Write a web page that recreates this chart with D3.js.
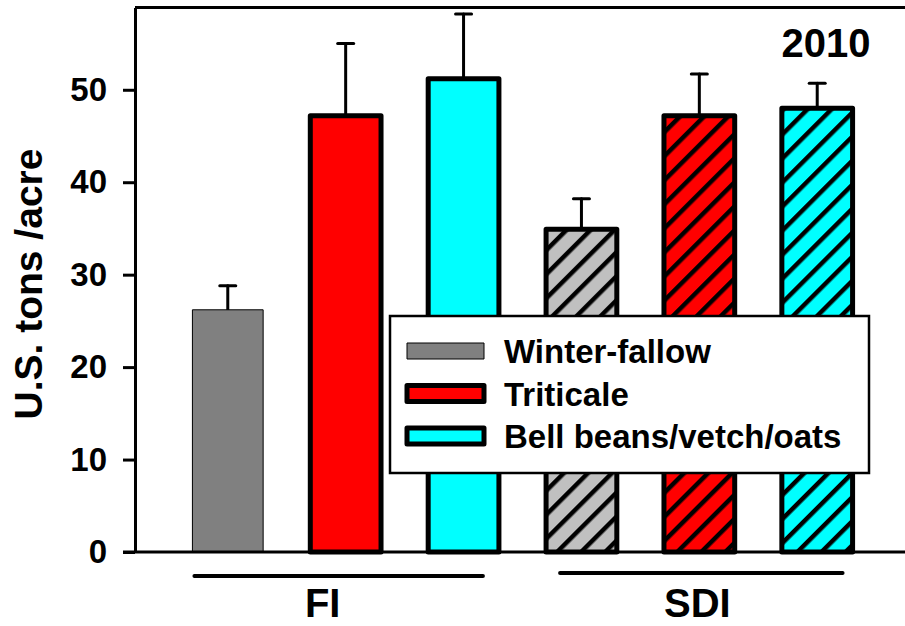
<!DOCTYPE html>
<html>
<head>
<meta charset="utf-8">
<script src="https://cdn.jsdelivr.net/npm/d3@7"></script>
<style>
  html, body { margin: 0; padding: 0; background: #fff; }
  svg { display: block; }
  text { font-family: "Liberation Sans", Arial, sans-serif; font-weight: bold; fill: #000; }
</style>
</head>
<body>
<svg id="chart" width="905" height="626"></svg>
<script>
// Irrigation systems and cover-crop treatments
const groups = ["FI", "SDI"];
const treatments = ["Winter-fallow", "Triticale", "Bell beans/vetch/oats"];
const fillColors = ["#808080", "#ff0000", "#00ffff"];
const hatchedGray = "#c0c0c0";

// Yield means (U.S. tons/acre) and standard errors, per group
const fiMeans = [26.2, 47.2, 51.2];
const fiErrors = [2.6, 7.8, 7.0];
const sdiMeans = [34.9, 47.2, 48.0];
const sdiErrors = [3.3, 4.5, 2.7];

const yTicks = [0, 10, 20, 30, 40, 50];
const yearLabel = "2010";
const yTitle = "U.S. tons /acre";

const rows = [];
groups.forEach((g, gi) => {
  const means = gi === 0 ? fiMeans : sdiMeans;
  const errs = gi === 0 ? fiErrors : sdiErrors;
  treatments.forEach((t, ti) => {
    rows.push({ key: g + "|" + t, group: g, gi, ti, value: means[ti], err: errs[ti] });
  });
});

const svg = d3.select("#chart");
const plotLeft = 135, plotRight = 910, plotTop = 7.5, plotBottom = 552;

const x = d3.scaleBand()
  .domain(rows.map(d => d.key))
  .range([plotLeft, plotRight])
  .paddingInner(0.4)
  .paddingOuter(0.487);

const y = d3.scaleLinear().domain([0, 58.9]).range([plotBottom, plotTop]);

// Diagonal hatch patterns for the SDI bars
const defs = svg.append("defs");
function hatch(id, bg) {
  const p = defs.append("pattern")
    .attr("id", id)
    .attr("patternUnits", "userSpaceOnUse")
    .attr("width", 17).attr("height", 17)
    .attr("patternTransform", "rotate(45)");
  p.append("rect").attr("width", 17).attr("height", 17).attr("fill", bg);
  p.append("rect").attr("x", 0).attr("width", 4.5).attr("height", 17).attr("fill", "#000");
}
hatch("hatch0", hatchedGray);
hatch("hatch1", fillColors[1]);
hatch("hatch2", fillColors[2]);

// Error bars (drawn first so bars sit on top of the stem base)
const eb = svg.append("g").attr("stroke", "#000").attr("stroke-width", 3).attr("stroke-linecap", "round");
rows.forEach(d => {
  const cx = x(d.key) + x.bandwidth() / 2;
  eb.append("line").attr("x1", cx).attr("x2", cx).attr("y1", y(d.value)).attr("y2", y(d.value + d.err));
  eb.append("line").attr("x1", cx - 8).attr("x2", cx + 8).attr("y1", y(d.value + d.err)).attr("y2", y(d.value + d.err));
});

// Bars
svg.append("g").selectAll("rect").data(rows).join("rect")
  .attr("x", d => x(d.key))
  .attr("width", x.bandwidth())
  .attr("y", d => y(d.value))
  .attr("height", d => y(0) - y(d.value))
  .attr("fill", d => d.gi === 0 ? fillColors[d.ti] : `url(#hatch${d.ti})`)
  .attr("stroke", "#000")
  .attr("stroke-linejoin", "round")
  .attr("stroke-width", d => (d.gi === 0 && d.ti === 0) ? 1 : 5);

// Frame: top line and bottom axis line
svg.append("line").attr("x1", plotLeft).attr("x2", 905).attr("y1", plotTop).attr("y2", plotTop)
  .attr("stroke", "#000").attr("stroke-width", 3);
svg.append("line").attr("x1", plotLeft - 12).attr("x2", 905).attr("y1", plotBottom).attr("y2", plotBottom)
  .attr("stroke", "#000").attr("stroke-width", 3);

// Y axis
const yAxis = svg.append("g")
  .attr("transform", `translate(${plotLeft},0)`)
  .call(d3.axisLeft(y).tickValues(yTicks).tickSize(12).tickSizeOuter(0).tickPadding(16));
yAxis.select(".domain").attr("stroke-width", 3);
yAxis.selectAll(".tick line").attr("stroke-width", 3);
yAxis.selectAll(".tick text")
  .style("font-family", '"Liberation Sans", Arial, sans-serif')
  .style("font-weight", "bold")
  .style("font-size", "33px");

svg.append("text")
  .attr("transform", "translate(42,284) rotate(-90)")
  .attr("text-anchor", "middle")
  .style("font-size", "39px")
  .text(yTitle);

// Year label
svg.append("text")
  .attr("x", 826).attr("y", 57)
  .attr("text-anchor", "middle")
  .style("font-size", "40px")
  .text(yearLabel);

// Group underlines and labels
const groupLayout = [
  { l: 2, r: -16, ly: 576, dx: -23 },
  { l: 14, r: -10, ly: 573, dx: -2 }
];
groups.forEach((g, gi) => {
  const keys = rows.filter(d => d.gi === gi).map(d => d.key);
  const gl = groupLayout[gi];
  const x0 = x(keys[0]) + gl.l;
  const x1 = x(keys[keys.length - 1]) + x.bandwidth() + gl.r;
  svg.append("line").attr("x1", x0).attr("x2", x1).attr("y1", gl.ly).attr("y2", gl.ly)
    .attr("stroke", "#000").attr("stroke-width", 4).attr("stroke-linecap", "round");
  const mid = x(keys[1]) + x.bandwidth() / 2 + gl.dx;
  svg.append("text").attr("x", mid).attr("y", 617)
    .attr("text-anchor", "middle")
    .style("font-size", "40px")
    .text(g);
});

// Legend
const lg = svg.append("g");
lg.append("rect").attr("x", 390).attr("y", 316).attr("width", 479).attr("height", 157)
  .attr("fill", "#fff").attr("stroke", "#000").attr("stroke-width", 2.5);
treatments.forEach((t, i) => {
  const base = 363 + i * 42.5;
  const thin = i === 0;
  lg.append("rect")
    .attr("x", 407).attr("y", base - 20)
    .attr("width", 77).attr("height", 16)
    .attr("fill", fillColors[i])
    .attr("stroke", "#000")
    .attr("stroke-linejoin", "round")
    .attr("stroke-width", thin ? 1 : 5);
  lg.append("text").attr("x", 504).attr("y", base)
    .style("font-size", "33px")
    .text(t);
});
</script>
</body>
</html>
